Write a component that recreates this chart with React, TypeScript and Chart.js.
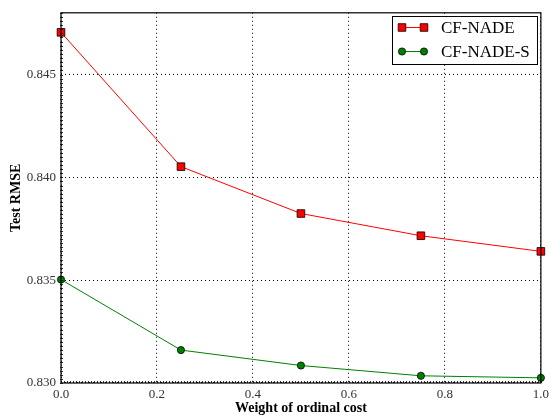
import React, { useEffect, useRef } from "react";
import { Chart, registerables } from "chart.js";

Chart.register(...registerables);

const weights = [0.0, 0.25, 0.5, 0.75, 1.0];
const cfNade = [0.84705, 0.84052, 0.83824, 0.83716, 0.8364];
const cfNadeS = [0.83503, 0.8316, 0.83085, 0.83035, 0.83025];
const seriesLabels = ["CF-NADE", "CF-NADE-S"];
const xTitle = "Weight of ordinal cost";
const yTitle = "Test RMSE";

const SERIF = "'Liberation Serif', 'DejaVu Serif', serif";

const framePlugin = {
  id: "frame",
  afterDraw(chart: any) {
    const { ctx, chartArea } = chart;
    const { left, right, top, bottom } = chartArea;
    const xs = chart.scales.x;
    const ys = chart.scales.y;
    ctx.save();
    // minor ticks
    ctx.strokeStyle = "#000";
    ctx.lineWidth = 0.8;
    ctx.beginPath();
    for (let v = 0; v <= 1.0001; v += 0.00625) {
      const px = Math.round(xs.getPixelForValue(v)) + 0.5;
      ctx.moveTo(px, bottom);
      ctx.lineTo(px, bottom - 2);
    }
    for (let v = 0.830; v <= 0.8481; v += 0.0002) {
      const py = Math.round(ys.getPixelForValue(v)) + 0.5;
      ctx.moveTo(left - 1, py);
      ctx.lineTo(left + 2, py);
    }
    ctx.stroke();
    // frame
    ctx.lineWidth = 1.2;
    ctx.strokeRect(left, top, right - left, bottom - top);

    // legend
    const bx = 392, by = 16, bw = 145, bh = 48;
    ctx.fillStyle = "#fff";
    ctx.fillRect(bx, by, bw, bh);
    ctx.lineWidth = 1;
    ctx.strokeStyle = "#000";
    ctx.strokeRect(bx + 0.5, by + 0.5, bw, bh);
    const rows = [27.5, 51.5];
    chart.data.datasets.forEach((ds: any, i: number) => {
      const y = by + rows[i] - 16;
      const x1 = 402, x2 = 424;
      ctx.strokeStyle = ds.borderColor;
      ctx.lineWidth = 1;
      ctx.beginPath();
      ctx.moveTo(x1, y);
      ctx.lineTo(x2, y);
      ctx.stroke();
      [x1, x2].forEach((x) => {
        ctx.fillStyle = ds.pointBackgroundColor;
        ctx.strokeStyle = "#000";
        ctx.lineWidth = 0.8;
        ctx.beginPath();
        if (ds.pointStyle === "rect") {
          ctx.rect(x - 3.8, y - 3.8, 7.6, 7.6);
        } else {
          ctx.arc(x, y, 3.6, 0, Math.PI * 2);
        }
        ctx.fill();
        ctx.stroke();
      });
      ctx.fillStyle = "#000";
      ctx.font = `17px ${SERIF}`;
      ctx.textBaseline = "middle";
      ctx.textAlign = "left";
      ctx.fillText(ds.label, 441, y + 1);
    });
    ctx.restore();
  },
};

export default function App() {
  const ref = useRef<HTMLCanvasElement>(null);
  useEffect(() => {
    document.body.style.margin = "0";
    const chart = new Chart(ref.current!, {
      type: "line",
      data: {
        datasets: [
          {
            label: seriesLabels[0],
            data: weights.map((w, i) => ({ x: w, y: cfNade[i] })),
            borderColor: "#ff0000",
            backgroundColor: "#ff0000",
            pointBackgroundColor: "#ff0000",
            pointBorderColor: "#000",
            pointBorderWidth: 0.8,
            pointStyle: "rect",
            pointRadius: 5.4,
            borderWidth: 1,
            clip: false,
          } as any,
          {
            label: seriesLabels[1],
            data: weights.map((w, i) => ({ x: w, y: cfNadeS[i] })),
            borderColor: "#008000",
            backgroundColor: "#008000",
            pointBackgroundColor: "#008000",
            pointBorderColor: "#000",
            pointBorderWidth: 0.8,
            pointStyle: "circle",
            pointRadius: 3.6,
            borderWidth: 1,
            clip: false,
          } as any,
        ],
      },
      options: {
        animation: false,
        responsive: false,
        devicePixelRatio: 1,
        layout: { padding: { top: 8, right: 9, left: 0, bottom: 0 } },
        plugins: { legend: { display: false }, tooltip: { enabled: false } },
        scales: {
          x: {
            type: "linear",
            min: 0,
            max: 1,
            afterFit: (s: any) => {
              s.height = 34;
            },
            grid: {
              color: "#000",
              lineWidth: 1,
              drawTicks: false,
            } as any,
            border: { display: false, dash: [1, 3] } as any,
            ticks: {
              stepSize: 0.2,
              padding: 4,
              color: "#333",
              font: { family: SERIF, size: 13 },
              callback: (v: any) => Number(v).toFixed(1),
              maxRotation: 0,
            },
            title: {
              display: true,
              text: xTitle,
              color: "#000",
              font: { family: SERIF, size: 14, weight: "bold" },
              padding: { top: 0, bottom: 0 },
            },
          },
          y: {
            type: "linear",
            min: 0.83,
            max: 0.848,
            afterFit: (s: any) => {
              s.width = 61;
            },
            grid: {
              color: "#000",
              lineWidth: 1,
              drawTicks: false,
            },
            border: { display: false, dash: [1, 3] } as any,
            ticks: {
              stepSize: 0.005,
              includeBounds: false,
              padding: 5,
              color: "#333",
              font: { family: SERIF, size: 13 },
              callback: (v: any) => Number(v).toFixed(3),
            } as any,
            title: {
              display: true,
              text: yTitle,
              color: "#000",
              font: { family: SERIF, size: 14, weight: "bold" },
              padding: { top: 8, bottom: 0 },
            },
          },
        },
      },
      plugins: [framePlugin],
    });
    return () => chart.destroy();
  }, []);
  return (
    <div style={{ position: "absolute", left: 0, top: 0, width: 553, height: 417 }}>
      <canvas ref={ref} width={553} height={417} />
    </div>
  );
}
